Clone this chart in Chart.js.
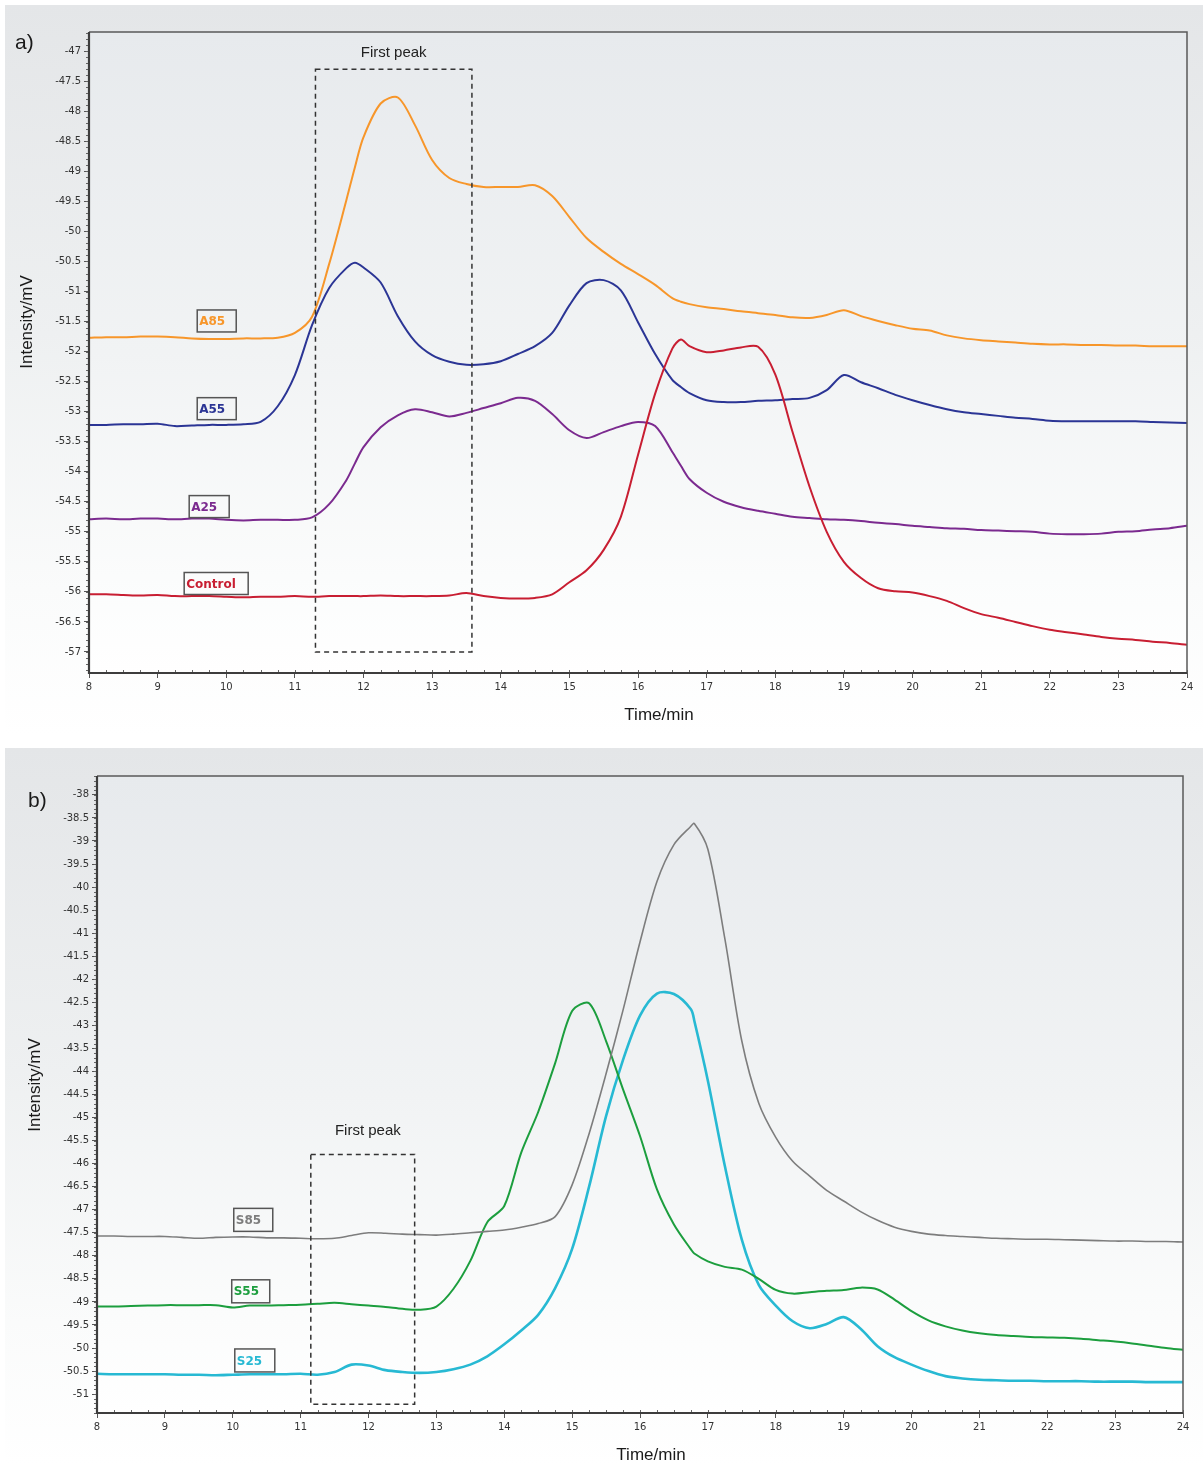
<!DOCTYPE html>
<html><head><meta charset="utf-8">
<script src="https://cdn.jsdelivr.net/npm/chart.js@4.4.0/dist/chart.umd.min.js"></script>
<style>
html,body{margin:0;padding:0;background:#fff;width:1203px;height:1466px;overflow:hidden}
.panel{position:absolute;left:5px;width:1198px;background:linear-gradient(#e4e6e8,#eef0f1 45%,#fafbfb 80%,#fff)}
#pa{top:5px;height:730px}
#pb{top:748px;height:718px}
canvas{display:block}
</style></head><body>
<div class="panel" id="pa"><canvas id="ca" width="1198" height="730"></canvas></div>
<div class="panel" id="pb"><canvas id="cb" width="1198" height="718"></canvas></div>
<script>
// ---------- Panel a data ----------
const timesA = [8,8.25,8.5,8.75,9,9.25,9.5,9.75,10,10.25,10.5,10.75,11,11.25,11.5,11.75,11.875,12,12.25,12.5,12.75,13,13.25,13.5,13.75,14,14.25,14.5,14.75,15,15.25,15.5,15.75,16,16.25,16.5,16.625,16.75,17,17.25,17.5,17.75,18,18.25,18.5,18.75,19,19.25,19.5,19.75,20,20.25,20.5,20.75,21,21.25,21.5,21.75,22,22.25,22.5,22.75,23,23.25,23.5,23.75,24];
const A85 = [-51.77,-51.76,-51.76,-51.75,-51.75,-51.76,-51.78,-51.79,-51.79,-51.78,-51.78,-51.77,-51.69,-51.42,-50.54,-49.48,-48.93,-48.43,-47.87,-47.77,-48.23,-48.81,-49.11,-49.21,-49.26,-49.26,-49.26,-49.23,-49.41,-49.76,-50.11,-50.34,-50.54,-50.71,-50.89,-51.11,-51.17,-51.21,-51.26,-51.29,-51.33,-51.36,-51.39,-51.43,-51.44,-51.39,-51.31,-51.41,-51.49,-51.56,-51.62,-51.65,-51.73,-51.78,-51.81,-51.83,-51.85,-51.87,-51.88,-51.88,-51.89,-51.89,-51.90,-51.90,-51.91,-51.91,-51.91];
const A55 = [-53.22,-53.22,-53.21,-53.21,-53.20,-53.24,-53.23,-53.22,-53.22,-53.21,-53.17,-52.91,-52.39,-51.56,-50.94,-50.61,-50.52,-50.60,-50.85,-51.41,-51.83,-52.06,-52.17,-52.22,-52.21,-52.16,-52.04,-51.91,-51.69,-51.23,-50.86,-50.81,-50.98,-51.51,-52.04,-52.47,-52.59,-52.69,-52.81,-52.84,-52.84,-52.82,-52.81,-52.79,-52.77,-52.64,-52.39,-52.51,-52.61,-52.72,-52.81,-52.89,-52.96,-53.01,-53.04,-53.07,-53.10,-53.12,-53.15,-53.16,-53.16,-53.16,-53.16,-53.16,-53.17,-53.18,-53.19];
const A25 = [-54.79,-54.78,-54.79,-54.78,-54.78,-54.79,-54.78,-54.78,-54.80,-54.81,-54.80,-54.80,-54.80,-54.76,-54.54,-54.14,-53.86,-53.59,-53.26,-53.06,-52.96,-53.01,-53.08,-53.02,-52.94,-52.86,-52.77,-52.82,-53.04,-53.31,-53.44,-53.34,-53.24,-53.17,-53.24,-53.67,-53.90,-54.12,-54.35,-54.50,-54.59,-54.65,-54.70,-54.75,-54.77,-54.79,-54.80,-54.82,-54.85,-54.87,-54.90,-54.92,-54.94,-54.95,-54.97,-54.98,-54.99,-55.00,-55.03,-55.04,-55.04,-55.03,-55.00,-54.99,-54.96,-54.94,-54.90];
const Control = [-56.04,-56.04,-56.05,-56.06,-56.05,-56.07,-56.07,-56.07,-56.08,-56.09,-56.08,-56.08,-56.07,-56.08,-56.07,-56.07,-56.07,-56.07,-56.06,-56.07,-56.07,-56.07,-56.06,-56.02,-56.07,-56.10,-56.11,-56.10,-56.04,-55.84,-55.64,-55.30,-54.75,-53.72,-52.70,-51.95,-51.80,-51.91,-52.01,-51.98,-51.93,-51.92,-52.38,-53.33,-54.25,-55.00,-55.50,-55.77,-55.94,-55.99,-56.01,-56.07,-56.15,-56.27,-56.37,-56.43,-56.50,-56.57,-56.63,-56.67,-56.71,-56.75,-56.78,-56.80,-56.83,-56.85,-56.88];

// ---------- Panel b data ----------
const timesB = [8,8.25,8.5,8.75,9,9.25,9.5,9.75,10,10.25,10.5,10.75,11,11.25,11.5,11.75,12,12.25,12.5,12.75,13,13.25,13.5,13.75,14,14.25,14.5,14.75,15,15.25,15.5,15.75,16,16.25,16.5,16.75,16.8,17,17.25,17.5,17.75,18,18.25,18.5,18.75,19,19.25,19.5,19.75,20,20.25,20.5,20.75,21,21.25,21.5,21.75,22,22.25,22.5,22.75,23,23.25,23.5,23.75,24];
const S85 = [-47.57,-47.57,-47.58,-47.58,-47.58,-47.60,-47.62,-47.60,-47.59,-47.59,-47.61,-47.61,-47.62,-47.63,-47.62,-47.56,-47.50,-47.51,-47.53,-47.54,-47.55,-47.53,-47.50,-47.47,-47.44,-47.38,-47.30,-47.15,-46.46,-45.35,-44.05,-42.67,-41.19,-39.88,-39.08,-38.68,-38.62,-39.18,-41.12,-43.34,-44.69,-45.43,-45.95,-46.27,-46.58,-46.81,-47.04,-47.23,-47.38,-47.47,-47.53,-47.56,-47.58,-47.60,-47.62,-47.63,-47.64,-47.64,-47.65,-47.66,-47.67,-47.68,-47.68,-47.69,-47.69,-47.70];
const S55 = [-49.10,-49.10,-49.09,-49.08,-49.07,-49.07,-49.07,-49.07,-49.12,-49.08,-49.08,-49.07,-49.06,-49.04,-49.02,-49.05,-49.08,-49.11,-49.15,-49.17,-49.10,-48.72,-48.11,-47.27,-46.92,-45.76,-44.88,-43.82,-42.69,-42.52,-43.34,-44.39,-45.40,-46.56,-47.32,-47.86,-47.95,-48.12,-48.24,-48.30,-48.50,-48.74,-48.82,-48.79,-48.76,-48.74,-48.69,-48.73,-48.95,-49.20,-49.40,-49.53,-49.62,-49.68,-49.72,-49.74,-49.76,-49.77,-49.78,-49.80,-49.83,-49.86,-49.90,-49.95,-50.00,-50.04];
const S25 = [-50.56,-50.57,-50.57,-50.57,-50.57,-50.58,-50.58,-50.59,-50.58,-50.57,-50.57,-50.57,-50.56,-50.58,-50.52,-50.36,-50.38,-50.48,-50.52,-50.54,-50.52,-50.46,-50.36,-50.18,-49.92,-49.62,-49.28,-48.70,-47.85,-46.50,-44.97,-43.75,-42.79,-42.31,-42.32,-42.65,-42.90,-44.20,-46.05,-47.65,-48.63,-49.08,-49.42,-49.57,-49.48,-49.33,-49.58,-49.96,-50.20,-50.36,-50.50,-50.61,-50.66,-50.69,-50.70,-50.71,-50.71,-50.72,-50.72,-50.72,-50.73,-50.73,-50.73,-50.74,-50.74,-50.74];

const xTicks = [8,9,10,11,12,13,14,15,16,17,18,19,20,21,22,23,24];

function pts(times, vals){ return times.map((t,i)=>({x:t,y:vals[i]})); }

const decor = {
  id:'decor',
  beforeDraw(chart){
    const {ctx, chartArea:a} = chart;
    const g = ctx.createLinearGradient(0,a.top,0,a.bottom);
    g.addColorStop(0,'#e7eaed'); g.addColorStop(0.5,'#f1f3f4'); g.addColorStop(0.85,'#fbfcfc'); g.addColorStop(1,'#ffffff');
    ctx.save(); ctx.fillStyle=g; ctx.fillRect(a.left,a.top,a.right-a.left,a.bottom-a.top); ctx.restore();
  },
  afterDraw(chart){
    const o = chart.options.plugins.decor;
    const {ctx, chartArea:a, scales} = chart;
    const xs = scales.x, ys = scales.y;
    ctx.save();
    // minor ticks
    ctx.strokeStyle='#666'; ctx.lineWidth=1;
    ctx.beginPath();
    for(let k=Math.ceil(ys.min*10);k<=Math.floor(ys.max*10);k++){
      const y=Math.round(ys.getPixelForValue(k/10))+0.5;
      ctx.moveTo(a.left-3,y); ctx.lineTo(a.left,y);
    }
    for(let k=8*4;k<=24*4;k++){
      const x=Math.round(xs.getPixelForValue(k/4))+0.5;
      ctx.moveTo(x,a.bottom); ctx.lineTo(x,a.bottom-3);
    }
    ctx.stroke();
    // frame
    ctx.strokeStyle='#5a5a5a'; ctx.lineWidth=1.5;
    ctx.beginPath(); ctx.moveTo(a.left,a.top); ctx.lineTo(a.right,a.top); ctx.lineTo(a.right,a.bottom); ctx.stroke();
    ctx.strokeStyle='#3d3d3d'; ctx.lineWidth=2.2;
    ctx.beginPath(); ctx.moveTo(a.left,a.top); ctx.lineTo(a.left,a.bottom); ctx.lineTo(a.right,a.bottom); ctx.stroke();
    // first peak box
    const b=o.box;
    const x1=xs.getPixelForValue(b.t0), x2=xs.getPixelForValue(b.t1);
    const y1=ys.getPixelForValue(b.v0), y2=ys.getPixelForValue(b.v1);
    ctx.strokeStyle='#333'; ctx.lineWidth=1.5; ctx.setLineDash([5,4]);
    ctx.strokeRect(x1,y1,x2-x1,y2-y1);
    ctx.setLineDash([]);
    ctx.fillStyle='#222'; ctx.font='15px "Liberation Sans", Arial, sans-serif';
    ctx.textAlign='center'; ctx.textBaseline='middle';
    ctx.fillText(b.text, xs.getPixelForValue(b.lt), ys.getPixelForValue(b.lv));
    // series labels
    o.labels.forEach(l=>{
      const lx=xs.getPixelForValue(l.t), ly=ys.getPixelForValue(l.v);
      ctx.strokeStyle='#555'; ctx.lineWidth=1.5;
      ctx.strokeRect(lx, ly-l.h/2, l.w, l.h);
      ctx.fillStyle=l.color; ctx.font='bold 12px "DejaVu Sans", Verdana, sans-serif';
      ctx.textAlign='left'; ctx.textBaseline='middle';
      ctx.fillText(l.text, lx+2, ly+1);
    });
    // titles
    ctx.fillStyle='#1a1a1a'; ctx.font='17px "Liberation Sans", Arial, sans-serif';
    ctx.textAlign='center'; ctx.textBaseline='middle';
    ctx.fillText('Time/min', o.xTitle[0], o.xTitle[1]);
    ctx.save(); ctx.translate(o.yTitle[0], o.yTitle[1]); ctx.rotate(-Math.PI/2);
    ctx.fillText('Intensity/mV',0,0); ctx.restore();
    ctx.font='21px "Liberation Sans", Arial, sans-serif'; ctx.textAlign='left';
    ctx.fillText(o.tag[0], o.tag[1], o.tag[2]);
    ctx.restore();
  }
};

function makeChart(id, cfg){
  return new Chart(document.getElementById(id), {
    type:'line',
    data:{datasets:cfg.series.map(s=>({
      label:s.name, data:pts(cfg.times,s.vals), borderColor:s.color, borderWidth:s.w,
      pointRadius:0, tension:0.3, fill:false
    }))},
    options:{
      responsive:false, animation:false, events:[],
      layout:{padding:{top:cfg.padTop,right:cfg.padRight,left:0,bottom:0}},
      plugins:{legend:{display:false}, tooltip:{enabled:false}, decor:cfg.decor},
      scales:{
        x:{type:'linear', min:8, max:24,
           afterBuildTicks:(s)=>{s.ticks=xTicks.map(v=>({value:v}));},
           afterFit:(s)=>{s.height=cfg.xH;},
           ticks:{color:'#333', font:{family:'"DejaVu Sans", Verdana, sans-serif', size:10}, padding:3, maxRotation:0, autoSkip:false},
           grid:{drawOnChartArea:false, drawTicks:true, tickLength:5, color:'#555'},
           border:{display:false}},
        y:{type:'linear', min:cfg.yMin, max:cfg.yMax,
           afterFit:(s)=>{s.width=cfg.yW;},
           ticks:{stepSize:0.5, includeBounds:false, color:'#333', padding:3,
                  font:{family:'"DejaVu Sans", Verdana, sans-serif', size:10},
                  callback:(v)=>String(Math.round(v*10)/10)},
           grid:{drawOnChartArea:false, drawTicks:true, tickLength:5, color:'#555'},
           border:{display:false}}
      }
    },
    plugins:[decor]
  });
}

makeChart('ca', {
  times:timesA, yMin:-57.35, yMax:-46.68, padTop:27, padRight:16, xH:62, yW:84,
  series:[
    {name:'Control', vals:Control, color:'#c81e32', w:2},
    {name:'A25', vals:A25, color:'#7b2a8f', w:2},
    {name:'A55', vals:A55, color:'#2b3595', w:2},
    {name:'A85', vals:A85, color:'#f7962a', w:2}
  ],
  decor:{
    box:{t0:11.30, t1:13.58, v0:-47.30, v1:-57.0, text:'First peak', lt:12.44, lv:-47.03},
    labels:[
      {text:'A85', t:9.577, v:-51.49, w:39, h:22, color:'#f7962a'},
      {text:'A55', t:9.577, v:-52.95, w:39, h:22, color:'#2b3595'},
      {text:'A25', t:9.46, v:-54.58, w:40, h:22, color:'#7b2a8f'},
      {text:'Control', t:9.387, v:-55.86, w:64, h:22, color:'#c81e32'}
    ],
    xTitle:[654,710], yTitle:[22,317], tag:['a)',10,38]
  }
});

makeChart('cb', {
  times:timesB, yMin:-51.41, yMax:-37.59, padTop:28, padRight:20, xH:53, yW:92,
  series:[
    {name:'S85', vals:S85, color:'#7d7d7d', w:1.6},
    {name:'S55', vals:S55, color:'#1c9e3e', w:2},
    {name:'S25', vals:S25, color:'#27b9d3', w:2.6}
  ],
  decor:{
    box:{t0:11.15, t1:12.68, v0:-45.80, v1:-51.22, text:'First peak', lt:11.99, lv:-45.28},
    labels:[
      {text:'S85', t:10.015, v:-47.22, w:39, h:23, color:'#7d7d7d'},
      {text:'S55', t:9.985, v:-48.77, w:38, h:23, color:'#1c9e3e'},
      {text:'S25', t:10.03, v:-50.27, w:40, h:23, color:'#27b9d3'}
    ],
    xTitle:[646,707], yTitle:[30,337], tag:['b)',23,53]
  }
});
</script>
</body></html>
